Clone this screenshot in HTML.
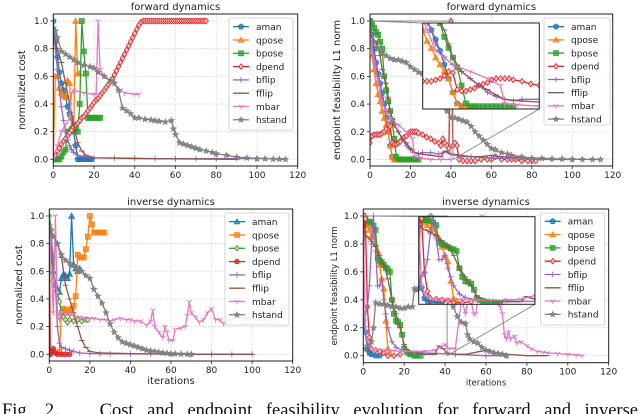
<!DOCTYPE html>
<html><head><meta charset="utf-8"><style>
html,body{margin:0;padding:0;background:#fff;overflow:hidden;width:640px;height:414px;position:relative}
svg{display:block;font-family:"DejaVu Sans","Liberation Sans",sans-serif}
#caption{position:absolute;left:2px;top:401px;width:636px;font:18.5px/21px "Liberation Serif",serif;color:#111;text-align:justify;text-align-last:justify;white-space:nowrap;overflow:hidden}
</style></head><body>
<svg id="fig" width="640" height="414" viewBox="0 0 640 414"></svg>
<div id="caption">Fig. 2. &nbsp; Cost and endpoint feasibility evolution for forward and inverse</div>
<script>
// ===== DATA =====
const seriesNames = ["aman","qpose","bpose","dpend","bflip","fflip","mbar","hstand"];
const xTicks = [0,20,40,60,80,100,120];
const yTicks = [0.0,0.2,0.4,0.6,0.8,1.0];
const yTickLabels = ["0.0","0.2","0.4","0.6","0.8","1.0"];

// Panel 1: forward dynamics, normalized cost
const fc_aman = [[0,1],[1,0.85],[2,0.74],[3,0.63],[4,0.55],[5,0.5],[6,0.45],[7,0.38],[8,0.33],[9,0.3],[10,0.2],[11,0.1],[12,0],[13,0],[14,0],[15,0],[16,0],[17,0],[18,0],[19,0]];
const fc_qpose = [[0,0],[1,0.6],[2,0.6],[3,0.52],[4,0.48],[5,0.46],[6,0.45],[7,0.57],[8,0.55],[9,0.2],[10,0.2],[11,1.0],[12,0.62],[13,0.62]];
const fc_bpose = [[0,0],[1,0],[2,0],[3,0],[4,0.02],[5,0.05],[6,0.07],[7,0.2],[8,0.2],[9,0.22],[10,0.2],[11,0.22],[12,0.2],[13,0.4],[14,1.0],[15,0.78],[16,0.62],[17,0.3],[18,0.3],[19,0.3],[20,0.3],[21,0.3],[22,0.3],[23,0.3]];
const fc_dpend = [[0,0.02],[1,0.03],[2,0.06],[3,0.08],[4,0.11],[5,0.13],[6,0.15],[7,0.17],[8,0.19],[9,0.21],[10,0.23],[11,0.25],[12,0.26],[13,0.28],[14,0.3],[15,0.31],[16,0.33],[17,0.35],[18,0.37],[19,0.39],[20,0.41],[21,0.43],[22,0.44],[23,0.46],[24,0.48],[25,0.5],[26,0.52],[27,0.54],[28,0.56],[29,0.58],[30,0.61],[31,0.64],[32,0.67],[33,0.7],[34,0.73],[35,0.76],[36,0.79],[37,0.82],[38,0.85],[39,0.88],[40,0.91],[41,0.94],[42,0.97],[43,0.99],[44,1.0],[45,1.0],[46,1.0],[47,1.0],[48,1.0],[49,1.0],[50,1.0],[51,1.0],[52,1.0],[53,1.0],[54,1.0],[55,1.0],[56,1.0],[57,1.0],[58,1.0],[59,1.0],[60,1.0],[61,1.0],[62,1.0],[63,1.0],[64,1.0],[65,1.0],[66,1.0],[67,1.0],[68,1.0],[69,1.0],[70,1.0],[71,1.0],[72,1.0],[73,1.0],[74,1.0],[75,1.0]];
const fc_bflip = [[0,0.9],[1,0.8],[2,0.65],[3,0.5],[4,0.38],[5,0.28],[6,0.2],[7,0.14],[8,0.1],[9,0.07],[10,0.05],[12,0.03],[15,0.02],[20,0.01],[30,0.01],[40,0.008],[50,0.005],[60,0.005],[70,0.005],[80,0.005],[90,0.005],[100,0.005]];
const fc_fflip = [[0,0.9],[2,0.8],[4,0.7],[6,0.55],[8,0.4],[10,0.25],[12,0.12],[14,0.06],[16,0.03],[20,0.01],[40,0.005],[60,0.003],[90,0]];
const fc_mbar = [[0,0],[2,0.1],[4,0.2],[6,0.25],[8,0.3],[9,0.48],[10,0.5],[15,0.48],[20,0.47],[21,0.47],[22,1.0],[23,0.65],[25,0.6],[30,0.55],[33,0.5],[35,0.48],[40,0.47],[42,0.47]];
const fc_hstand = [[0,0.95],[1,0.93],[2,0.88],[4,0.78],[6,0.76],[8,0.74],[10,0.72],[12,0.7],[15,0.68],[18,0.67],[20,0.66],[22,0.63],[25,0.6],[28,0.57],[30,0.55],[32,0.5],[34,0.37],[36,0.35],[38,0.33],[40,0.3],[42,0.3],[45,0.29],[48,0.285],[50,0.28],[52,0.275],[55,0.27],[58,0.28],[59,0.22],[60,0.18],[62,0.12],[64,0.11],[66,0.1],[68,0.09],[70,0.08],[72,0.07],[75,0.06],[78,0.05],[80,0.04],[85,0.03],[90,0.015],[95,0.01],[100,0.005],[104,0.004],[108,0.002],[111,0.001],[114,0]];

// Panel 2: forward dynamics, feasibility
const ff_aman = [[0,1],[1,0.9],[2,0.8],[3,0.7],[4,0.62],[5,0.55],[6,0.48],[7,0.4],[8,0.3],[9,0.2],[10,0.1],[11,0.02],[12,0]];
const ff_qpose = [[0,0.95],[1,0.75],[2,0.65],[3,0.55],[4,0.47],[5,0.42],[6,0.35],[7,0.3],[8,0.25],[9,0.2],[10,0.1],[11,0.02],[12,0],[13,0],[14,0],[15,0]];
const ff_bpose = [[0,1],[1,0.98],[2,0.95],[3,0.92],[4,0.9],[5,0.85],[6,0.8],[7,0.6],[8,0.5],[9,0.42],[10,0.35],[11,0.28],[12,0.15],[13,0.02],[14,0],[15,0],[16,0],[17,0],[18,0],[19,0],[20,0],[21,0],[22,0],[23,0],[24,0]];
const ff_dpend = [[0,0.12],[1,0.17],[2,0.18],[3,0.18],[4,0.18],[5,0.18],[6,0.19],[7,0.2],[8,0.22],[9,0.25],[10,0.24],[11,0.12],[12,0.11],[13,0.11],[14,0.12],[15,0.13],[16,0.15],[17,0.16],[18,0.17],[19,0.19],[20,0.2],[21,0.2],[22,0.2],[23,0.2],[24,0.19],[26,0.18],[28,0.16],[30,0.15],[32,0.13],[34,0.12],[35,0.1],[36,0.15],[37,0.12],[38,0.1],[39,0.08],[40,1.0],[41,0.1],[42,0.12],[43,0.1],[44,0],[46,-0.01],[48,-0.01],[50,-0.01],[52,-0.01],[55,0],[58,0],[60,0],[62,0.02],[65,0],[68,0],[70,0],[72,0],[75,-0.01],[78,-0.01],[80,-0.01],[82,-0.01]];
const ff_bflip = [[0,0.9],[2,0.75],[4,0.6],[5,0.55],[6,0.45],[8,0.35],[10,0.3],[12,0.25],[14,0.2],[16,0.15],[18,0.1],[20,0.07],[22,0.05],[24,0.04],[26,0.05],[30,0.05],[34,0.04],[38,0.06],[40,0.04],[45,0.02],[50,0.02],[60,0.01],[80,0],[100,0]];
const ff_fflip = [[0,0.9],[3,0.85],[5,0.75],[6,0.65],[7,0.6],[8,0.55],[9,0.45],[10,0.35],[12,0.25],[14,0.2],[16,0.15],[18,0.12],[20,0.08],[22,0.05],[25,0.04],[30,0.03],[35,0.02],[37,0.06],[40,0.04],[45,0.03],[50,0.02],[55,0.02],[60,0.03],[65,0.02],[80,0.01],[82,0.01]];
const ff_mbar = [[0,0.9],[2,0.7],[4,0.55],[6,0.4],[8,0.35],[10,0.3],[14,0.25],[18,0.2],[21,0.15],[22,0.02],[25,0.01],[30,0],[35,0],[40,0]];
const ff_hstand = [[0,0.95],[2,0.85],[4,0.8],[6,0.77],[8,0.75],[10,0.73],[12,0.72],[14,0.72],[16,0.71],[18,0.7],[20,0.67],[22,0.65],[24,0.63],[26,0.62],[28,0.61],[30,0.6],[32,0.52],[34,0.45],[36,0.4],[38,0.35],[40,0.3],[42,0.3],[44,0.29],[46,0.28],[48,0.27],[50,0.24],[52,0.2],[54,0.17],[56,0.14],[58,0.11],[60,0.08],[62,0.07],[65,0.05],[68,0.04],[70,0.03],[75,0.02],[80,0.01],[85,0.008],[90,0.005],[95,0.004],[100,0.002],[105,0.001],[110,0],[114,0]];

// Panel 3: inverse dynamics, normalized cost
const ic_aman = [[0,0.9],[1,0.7],[2,0.6],[3,0.5],[4,0.47],[5,0.45],[6,0.55],[7,0.58],[8,0.57],[9,0.55],[10,0.58],[11,1.0],[12,0.65],[13,0.62],[14,0.6],[15,0.62]];
const ic_qpose = [[0,0],[5,0.02],[6,0.3],[7,0.33],[8,0.32],[9,0.3],[10,0.32],[11,0.33],[12,0.35],[13,0.42],[14,0.72],[15,0.7],[16,0.7],[17,0.7],[18,0.76],[19,0.85],[20,1.0],[21,0.94],[22,0.88],[23,0.88],[24,0.88],[25,0.88],[26,0.88],[27,0.88]];
const ic_bpose = [[0,1.0],[1,0.9],[2,0.53],[3,0.5],[4,0.45],[5,0.38],[6,0.3],[7,0.27],[8,0.25],[9,0.23],[10,0.25],[12,0.24],[14,0.25],[16,0.24],[18,0.25],[19,0.25]];
const ic_dpend = [[0,0.9],[0.5,0],[1,0.02],[2,0.04],[3,0.01],[4,0],[6,0],[8,0],[10,0]];
const ic_bflip = [[0,0.9],[1,0.85],[2,0.7],[3,0.5],[4,0.2],[5,0.08],[6,0.05],[8,0.04],[10,0.03],[12,0.02],[15,0.01],[20,0.005],[25,0.004],[30,0.003],[40,0.003],[50,0.002],[60,0.002],[70,0.001],[80,0],[90,0],[100,0]];
const ic_fflip = [[0,0.9],[2,0.85],[4,0.8],[6,0.7],[8,0.5],[10,0.4],[12,0.3],[14,0.2],[16,0.1],[18,0.05],[20,0.02],[25,0.01],[40,0.005],[70,0],[100,0]];
const ic_mbar = [[0,0.9],[1,0.6],[2,0.3],[3,1.0],[4,0.28],[5,0.25],[6,0.3],[8,0.3],[10,0.28],[12,0.28],[15,0.27],[18,0.26],[20,0.26],[22,0.26],[25,0.25],[28,0.25],[30,0.24],[32,0.25],[35,0.26],[38,0.25],[40,0.25],[42,0.24],[45,0.24],[48,0.21],[50,0.24],[51,0.32],[52,0.2],[54,0.16],[56,0.12],[57,0.2],[58,0.16],[59,0.1],[61,0.1],[62,0.18],[65,0.19],[67,0.2],[68,0.28],[69,0.38],[70,0.3],[72,0.27],[74,0.23],[76,0.25],[78,0.3],[80,0.33],[82,0.25],[84,0.25],[86,0.22],[88,0.25],[90,0.25],[92,0.26],[95,0.26],[98,0.26],[100,0.26],[103,0.25],[106,0.25]];
const ic_hstand = [[0,0.93],[2,0.85],[4,0.8],[6,0.72],[8,0.68],[10,0.66],[12,0.64],[14,0.62],[16,0.6],[18,0.57],[20,0.55],[22,0.47],[24,0.42],[26,0.37],[28,0.3],[30,0.22],[32,0.16],[34,0.12],[36,0.09],[38,0.08],[40,0.07],[42,0.06],[44,0.05],[46,0.04],[48,0.03],[50,0.025],[52,0.02],[54,0.015],[56,0.01],[58,0.008],[60,0.005],[62,0.004],[65,0.002],[68,0.001],[70,0]];

// Panel 4: inverse dynamics, feasibility
const if_aman = [[0,0.25],[1,0.17],[2,0.05],[3,0.02],[4,0.01],[6,0],[8,0]];
const if_qpose = [[0,0.9],[1,0.95],[2,0.93],[3,0.9],[4,0.85],[5,0.87],[6,0.8],[7,0.75],[8,0.65],[9,0.55],[10,0.48],[11,0.25],[12,0.05],[13,0.02]];
const if_bpose = [[0,1.0],[1,0.98],[2,0.96],[3,0.96],[4,0.95],[5,0.93],[6,0.9],[7,0.7],[8,0.68],[9,0.67],[10,0.65],[11,0.63],[12,0.62],[13,0.6],[14,0.4],[15,0.3],[16,0.25],[17,0.24],[18,0.22],[19,0.15],[20,0.05],[21,0.03],[22,0.02],[23,0.01],[25,0],[26,0],[28,0]];
const if_dpend = [[0,0.3],[0.5,1.0],[1,0.98],[2,0.35],[3,0.13],[4,0.05],[6,0.04],[8,0.03],[10,0.02],[12,0],[15,0],[18,0.01]];
const if_bflip = [[0,0.2],[1,0.3],[2,0.35],[3,0.5],[4,0.8],[5,1.0],[6,0.75],[7,0.5],[8,0.5],[9,0.55],[10,0.4],[11,0.3],[12,0.2],[14,0.1],[16,0.06],[20,0.03],[30,0.02],[45,0.01],[60,0],[70,0]];
const if_fflip = [[0,0.9],[2,0.85],[4,0.82],[6,0.78],[8,0.72],[10,0.65],[12,0.55],[14,0.4],[16,0.3],[18,0.2],[20,0.08],[22,0.03],[25,0.02],[30,0.01],[35,0.01],[37,0.07],[39,0.05],[41,0.02],[45,0.01],[50,0.01],[57,0.03],[60,0.04],[65,0.02],[70,0.01],[80,0],[90,0]];
const if_mbar = [[0,0.9],[1,0.2],[2,0.1],[3,0.08],[5,0.05],[10,0.04],[15,0.035],[20,0.03],[25,0.03],[30,0.03],[35,0.04],[40,0.08],[42,0.05],[45,0.05],[48,0.4],[50,0.3],[52,0.45],[54,0.3],[55,0.3],[56,0.4],[57,0.55],[58,1.0],[59,0.55],[60,0.45],[62,0.45],[65,0.4],[67,0.35],[68,0.3],[69,0.15],[70,0.12],[71,0.17],[72,0.12],[74,0.14],[75,0.09],[77,0.1],[80,0.07],[82,0.05],[85,0.03],[88,0.025],[90,0.02],[95,0.015],[100,0.01],[104,0.005],[107,0]];
const if_hstand = [[0,0.05],[2,0.07],[4,0.1],[5,0.2],[6,0.38],[8,0.37],[10,0.37],[12,0.36],[14,0.35],[16,0.35],[18,0.34],[20,0.34],[22,0.35],[24,0.35],[25,0.48],[26,0.47],[27,0.48],[28,0.5],[30,0.75],[32,0.98],[33,1.0],[34,0.98],[36,0.98],[38,0.8],[40,0.7],[44,0.35],[46,0.28],[48,0.24],[50,0.23],[51,0.15],[52,0.12],[54,0.1],[56,0.09],[58,0.06],[60,0.04],[62,0.03],[64,0.02],[66,0.015],[68,0.01],[70,0]];

// ===== RENDERING =====
const NS="http://www.w3.org/2000/svg";
const svg=document.getElementById('fig');
const colors={aman:"#1f77b4",qpose:"#ff7f0e",bpose:"#2ca02c",dpend:"#d62728",bflip:"#9467bd",fflip:"#8c564b",mbar:"#e377c2",hstand:"#7f7f7f"};
function el(tag,attrs,parent){const e=document.createElementNS(NS,tag);for(const k in attrs)e.setAttribute(k,attrs[k]);(parent||svg).appendChild(e);return e;}

function markerPath(type,x,y,r){
  let pts=[];
  if(type==='p'){for(let i=0;i<5;i++){const a=-Math.PI/2+i*2*Math.PI/5;pts.push([x+r*Math.cos(a),y+r*Math.sin(a)]);}}
  else if(type==='^'){pts=[[x,y-r],[x+r,y+r*0.8],[x-r,y+r*0.8]];}
  else if(type==='s'){const q=r*0.85;pts=[[x-q,y-q],[x+q,y-q],[x+q,y+q],[x-q,y+q]];}
  else if(type==='D'){pts=[[x,y-r],[x+r*0.8,y],[x,y+r],[x-r*0.8,y]];}
  else if(type==='o'){for(let i=0;i<8;i++){const a=i*Math.PI/4;pts.push([x+r*0.85*Math.cos(a),y+r*0.85*Math.sin(a)]);}}
  else if(type==='*'){for(let i=0;i<10;i++){const a=-Math.PI/2+i*Math.PI/5;const rr=i%2?r*0.45:r;pts.push([x+rr*Math.cos(a),y+rr*Math.sin(a)]);}}
  if(pts.length) return {poly:'M'+pts.map(p=>p[0].toFixed(1)+','+p[1].toFixed(1)).join('L')+'Z'};
  if(type==='+') return {open:`M${x-r},${y}L${x+r},${y}M${x},${y-r}L${x},${y+r}`};
  if(type==='|') return {open:`M${x-r},${y}L${x+r},${y}`};
  if(type==='1') return {open:`M${x},${y}L${x},${y+r}M${x},${y}L${x-r*0.87},${y-r*0.5}M${x},${y}L${x+r*0.87},${y-r*0.5}`};
  return {open:''};
}
function drawMarker(g,type,x,y,r,c){
  const m=markerPath(type,x,y,r);
  if(m.poly){
    const fill=type==='D'?'#f6c4c4':c;
    const p=el('path',{d:m.poly,fill:fill,'fill-opacity':type==='D'?1:0.75,stroke:c,'stroke-width':0.8},g);
    
    
  }else{
    const p=el('path',{d:m.open,fill:'none',stroke:c,'stroke-width':0.9},g);
    
    
  }
}
let clipId=0;
function drawSeries(parent,data,sx,sy,color,mk,clip,name){
  const g=el('g',{'clip-path':`url(#${clip})`},parent);
  
  
  const d=data.map((p,i)=>(i?'L':'M')+sx(p[0]).toFixed(1)+','+sy(p[1]).toFixed(1)).join('');
  const line=el('path',{d:d,fill:'none',stroke:color,'stroke-width':1.3},g);
  
  
  data.forEach(p=>drawMarker(g,mk,sx(p[0]),sy(p[1]),2.9,color));
}
function addClip(x,y,w,h){
  const id='c'+(clipId++);
  let defs=svg.querySelector('defs')||el('defs',{});
  const cp=el('clipPath',{id:id},defs);
  el('rect',{x:x,y:y,width:w,height:h},cp);
  return id;
}

function panel(cfg){
  const {L,R,T,B,y1,y0,title,ylabel,xlabel,series,markers,legend,inset,name,ylFont}=cfg;
  const g=el('g',{});
  
  
  const sx=v=>L+(v-0)/(120-0)*(R-L);
  const sy=v=>y0+(y1-y0)*v;
  xTicks.forEach(t=>{const l=el('line',{x1:sx(t),x2:sx(t),y1:T,y2:B,stroke:'#cfcfcf','stroke-width':0.7,'stroke-dasharray':'1.5,1.5'},g);
    });
  yTicks.forEach(t=>{const l=el('line',{x1:L,x2:R,y1:sy(t),y2:sy(t),stroke:'#cfcfcf','stroke-width':0.7,'stroke-dasharray':'1.5,1.5'},g);
    });
  const clip=addClip(L,T,R-L,B-T);
  seriesNames.forEach((n,i)=>drawSeries(g,series[i],sx,sy,colors[n],markers[i],clip,n));
  if(inset){
    const {x0,x1,ix,iy,iw,ih,ylo,yhi,rx}=inset;
    const ind=el('path',{d:`M${sx(0)},${sy(1)}L${sx(rx)},${sy(1)}L${sx(rx)},${sy(0)}`,fill:'none',stroke:'#888','stroke-width':0.9},g);
    
    const c1=el('line',{x1:sx(0)+1,y1:sy(1),x2:ix,y2:iy,stroke:'#888','stroke-width':0.9},g);
    
    const c2=el('line',{x1:sx(rx),y1:sy(0),x2:ix+iw,y2:iy+ih,stroke:'#888','stroke-width':0.9},g);
    
    const ig=el('g',{},g);
    
    el('rect',{x:ix,y:iy,width:iw,height:ih,fill:'#fff'},ig);
    const isx=v=>ix+(v-x0)/(x1-x0)*iw;
    const isy=v=>iy+ih-(v-ylo)/(yhi-ylo)*ih;
    const iclip=addClip(ix,iy,iw,ih);
    seriesNames.forEach((n,i)=>{ if(n!=='hstand') drawSeries(ig,series[i],isx,isy,colors[n],markers[i],iclip,'inset-'+n); });
    el('rect',{x:ix,y:iy,width:iw,height:ih,fill:'none',stroke:'#222','stroke-width':1},ig);
  }
  const fr=el('rect',{x:L,y:T,width:R-L,height:B-T,fill:'none',stroke:'#222','stroke-width':1},g);
  
  xTicks.forEach(t=>{el('line',{x1:sx(t),x2:sx(t),y1:B,y2:B+3,stroke:'#222','stroke-width':0.8},g);
    const tx=el('text',{x:sx(t),y:B+12,'font-size':9,'text-anchor':'middle',fill:'#222'},g);tx.textContent=t;
    });
  yTicks.forEach((t,i)=>{el('line',{x1:L-3,x2:L,y1:sy(t),y2:sy(t),stroke:'#222','stroke-width':0.8},g);
    const tx=el('text',{x:L-5,y:sy(t)+3,'font-size':9,'text-anchor':'end',fill:'#222'},g);tx.textContent=yTickLabels[i];
    });
  const tt=el('text',{x:(L+R)/2,y:T-4,'font-size':10,'text-anchor':'middle',fill:'#222'},g);tt.textContent=title;
  
  const yl=el('text',{x:0,y:0,'font-size':ylFont,'text-anchor':'middle',fill:'#222',transform:`translate(${cfg.ylx},${(T+B)/2}) rotate(-90)`},g);yl.textContent=ylabel;
  
  if(xlabel){const xl=el('text',{x:(L+R)/2,y:B+23,'font-size':cfg.xlFont,'text-anchor':'middle',fill:'#222'},g);xl.textContent=xlabel;
    }
  const lg=el('g',{},g);
  
  el('rect',{x:legend.x,y:legend.y,width:legend.w,height:legend.h,rx:2,fill:'#fff','fill-opacity':0.85,stroke:'#ccc','stroke-width':0.8},lg);
  seriesNames.forEach((n,i)=>{
    const yy=legend.y0+i*legend.dy;
    const e=el('g',{},lg);
    
    el('line',{x1:legend.x+4,x2:legend.x+20,y1:yy,y2:yy,stroke:colors[n],'stroke-width':1.3},e);
    drawMarker(e,markers[i],legend.x+12,yy,2.8,colors[n]);
    const t=el('text',{x:legend.x+27,y:yy+3.3,'font-size':9,fill:'#222'},e);t.textContent=n;
  });
}

const mkA=['p','^','s','D','+','|','1','*'];
const mkB=['^','s','D','o','+','|','1','*'];
panel({name:'forward-cost-chart',L:53.3,R:297.7,T:14,B:166,y1:21,y0:159.3,title:'forward dynamics',ylabel:'normalized cost',ylFont:10,ylx:25,
  series:[fc_aman,fc_qpose,fc_bpose,fc_dpend,fc_bflip,fc_fflip,fc_mbar,fc_hstand],markers:mkA,
  legend:{x:229,y:18,w:64,h:112,y0:26.7,dy:13.3}});
panel({name:'forward-feasibility-chart',L:370,R:612.7,T:14,B:166,y1:21,y0:159.5,title:'forward dynamics',ylabel:'endpoint feasibility L1 norm',ylFont:10,ylx:340,
  series:[ff_aman,ff_qpose,ff_bpose,ff_dpend,ff_bflip,ff_fflip,ff_mbar,ff_hstand],markers:mkA,
  legend:{x:544,y:18,w:66,h:107,y0:26.7,dy:13.2},
  inset:{x0:3,x1:30,rx:41,ix:422.7,iy:23,iw:116.6,ih:86,ylo:-0.02,yhi:0.6}});
panel({name:'inverse-cost-chart',L:49.3,R:292.7,T:209,B:361,y1:216,y0:354.3,title:'inverse dynamics',ylabel:'normalized cost',ylFont:10,ylx:22,xlabel:'iterations',xlFont:10,
  series:[ic_aman,ic_qpose,ic_bpose,ic_dpend,ic_bflip,ic_fflip,ic_mbar,ic_hstand],markers:mkB,
  legend:{x:225,y:213,w:64,h:112,y0:221.7,dy:13.3}});
panel({name:'inverse-feasibility-chart',L:363.3,R:608.7,T:209,B:362.7,y1:216,y0:355.7,title:'inverse dynamics',ylabel:'endpoint feasibility L1 norm',ylFont:8.5,ylx:337,xlabel:'iterations',xlFont:8.5,
  series:[if_aman,if_qpose,if_bpose,if_dpend,if_bflip,if_fflip,if_mbar,if_hstand],markers:mkA,
  legend:{x:540.7,y:213,w:64,h:112,y0:221.3,dy:13.3},
  inset:{x0:0,x1:40,rx:41,ix:418.7,iy:216.7,iw:116.3,ih:87.6,ylo:-0.02,yhi:1.0}});
</script>
</body></html>
